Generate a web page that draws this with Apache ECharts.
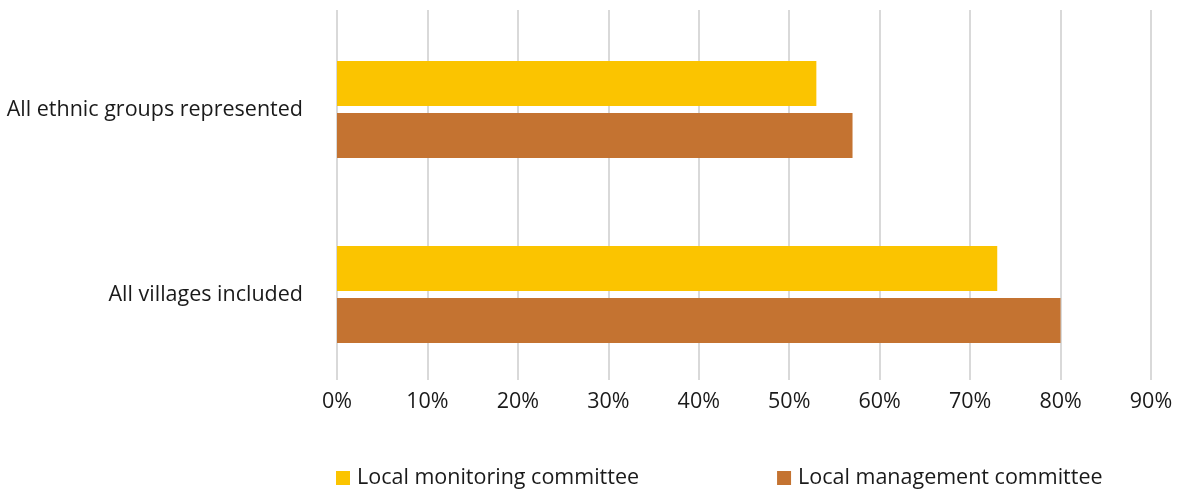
<!DOCTYPE html>
<html>
<head>
<meta charset="utf-8">
<script src="https://cdn.jsdelivr.net/npm/echarts@6/dist/echarts.min.js"></script>
<style>html,body{margin:0;padding:0;background:#fff}#c{width:1184px;height:490px}</style>
</head>
<body>
<div id="c"></div>
<script>
// Share of committees meeting each inclusion criterion (%)
const categories = ['All ethnic groups represented', 'All villages included'];
const monitoring = [53, 73];
const management = [57, 80];
const seriesNames = ['Local monitoring committee', 'Local management committee'];

const FONT = '"Open Sans", "Noto Sans", sans-serif';
const chart = echarts.init(document.getElementById('c'), null, { renderer: 'canvas' });

chart.setOption({
  animation: false,
  textStyle: { fontFamily: FONT },
  legend: {
    top: 462,
    left: 331,
    itemGap: 138,
    itemWidth: 14,
    itemHeight: 14,
    icon: 'rect',
    textStyle: { fontSize: 21.5, color: '#1a1a1a', fontFamily: FONT, padding: [0, 0, 0, 2] },
    data: seriesNames
  },
  grid: [
    { left: 337, right: 33, top: 10, bottom: 110, containLabel: false },
    { left: 337, right: 33, top: 17, bottom: 103, containLabel: false }
  ],
  xAxis: [
    {
      gridIndex: 0, type: 'value', min: 0, max: 90, interval: 10,
      axisLine: { show: false }, axisTick: { show: false },
      splitLine: { lineStyle: { color: '#d9d9d9', width: 2 } },
      axisLabel: {
        margin: 11, fontSize: 21.5, color: '#1a1a1a', fontFamily: FONT,
        formatter: v => v + '%'
      }
    },
    {
      gridIndex: 1, type: 'value', min: 0, max: 90, interval: 10,
      axisLine: { show: false }, axisTick: { show: false },
      splitLine: { show: false }, axisLabel: { show: false }
    }
  ],
  yAxis: [
    {
      gridIndex: 0, type: 'category', data: categories, inverse: true,
      axisLine: { show: false }, axisTick: { show: false }, axisLabel: { show: false }
    },
    {
      gridIndex: 1, type: 'category', data: categories, inverse: true,
      axisLine: { show: false }, axisTick: { show: false },
      axisLabel: { margin: 34, fontSize: 21.5, color: '#1a1a1a', fontFamily: FONT }
    }
  ],
  series: [
    {
      name: seriesNames[0], type: 'bar', xAxisIndex: 1, yAxisIndex: 1,
      data: monitoring, barWidth: 45, barGap: '15.5%',
      itemStyle: { color: '#fbc400' }
    },
    {
      name: seriesNames[1], type: 'bar', xAxisIndex: 1, yAxisIndex: 1,
      data: management, barWidth: 45, barGap: '15.5%',
      itemStyle: { color: '#c47331' }
    }
  ]
});
</script>
</body>
</html>
